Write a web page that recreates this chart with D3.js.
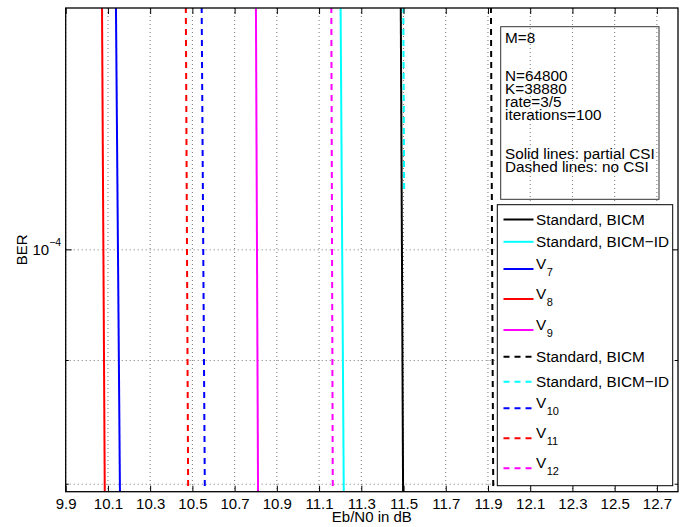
<!DOCTYPE html>
<html lang="en">
<meta charset="utf-8">
  <head>
    <script src="https://d3js.org/d3.v7.min.js"></script>
  </head>
  <style>
    body { margin: 0; background: white; }
    text { font-family: "Liberation Sans", Arial, sans-serif; }
  </style>
  <body>
  <div id="chart"></div>
  <script>
  // series in legend order
  var names = ["Standard, BICM", "Standard, BICM\u2212ID", "V|7", "V|8", "V|9",
               "Standard, BICM", "Standard, BICM\u2212ID", "V|10", "V|11", "V|12"];
  var colors = ["black", "cyan", "blue", "red", "magenta",
                "black", "cyan", "blue", "red", "magenta"];
  var dashed = [false, false, false, false, false, true, true, true, true, true];
  // Eb/N0 at the BER values below
  var ebn0 = [
    [11.487, 11.498],
    [11.202, 11.217],
    [10.138, 10.157],
    [10.072, 10.085],
    [10.801, 10.811],
    [11.914, 11.925],
    [11.499, 11.503],
    [10.544, 10.559],
    [10.469, 10.480],
    [11.158, 11.165]
  ];
  var ber = [
    [1.26e-4, 7.94e-5],
    [1.26e-4, 7.94e-5],
    [1.26e-4, 7.94e-5],
    [1.26e-4, 7.94e-5],
    [1.26e-4, 7.94e-5],
    [1.26e-4, 7.94e-5],
    [1.26e-4, 1.056e-4],
    [1.26e-4, 7.94e-5],
    [1.26e-4, 7.94e-5],
    [1.26e-4, 7.94e-5]
  ];
  var xTicks = [9.9, 10.1, 10.3, 10.5, 10.7, 10.9, 11.1, 11.3, 11.5, 11.7, 11.9, 12.1, 12.3, 12.5, 12.7];
  var yMajor = [1e-4];
  var yMinor = [8e-5, 9e-5];
  var infoLines = ["M=8", "", "", "N=64800", "K=38880", "rate=3/5", "iterations=100", "", "",
                   "Solid lines: partial CSI", "Dashed lines: no CSI"];

  var W = 685, H = 527;
  var L = 65.7, T = 8, R = 678, B = 491.7;

  var svg = d3.select("#chart").append("svg")
      .attr("width", W).attr("height", H);

  var x = d3.scaleLinear().domain([9.9, 12.8]).range([L, R]);
  var y = d3.scaleLog().domain([Math.pow(10, -4.1), Math.pow(10, -3.9)]).range([B, T]);

  svg.append("clipPath").attr("id", "clip")
    .append("rect").attr("x", L).attr("y", T).attr("width", R - L).attr("height", B - T);

  // grid
  var grid = svg.append("g");
  grid.selectAll(".gx").data(xTicks).enter().append("line")
      .attr("x1", d => x(d)).attr("x2", d => x(d))
      .attr("y1", T).attr("y2", B)
      .attr("stroke", "#777").attr("stroke-width", 1).attr("stroke-dasharray", "1,3");
  grid.selectAll(".gy").data(yMajor.concat(yMinor)).enter().append("line")
      .attr("x1", L).attr("x2", R)
      .attr("y1", d => y(d)).attr("y2", d => y(d))
      .attr("stroke", "#777").attr("stroke-width", 1).attr("stroke-dasharray", "1,3");

  // curves
  var line = d3.line().x(d => x(d[0])).y(d => y(d[1]));
  var curves = svg.append("g").attr("clip-path", "url(#clip)");
  names.forEach(function(n, i) {
    var pts = ebn0[i].map((e, j) => [e, ber[i][j]]);
    curves.append("path")
      .datum(pts)
      .attr("d", line)
      .attr("fill", "none")
      .attr("stroke", colors[i])
      .attr("stroke-width", 2)
      .attr("stroke-dasharray", dashed[i] ? "6,5" : null);
  });

  // axes
  var xAxis = d3.axisBottom(x).tickValues(xTicks).tickSize(-6).tickPadding(6.5)
      .tickFormat(d3.format(".1f"));
  var gx = svg.append("g").attr("transform", `translate(0,${B})`).call(xAxis);
  gx.select(".domain").remove();
  gx.selectAll("text").attr("font-size", 15).attr("fill", "black")
      .attr("font-family", "Liberation Sans, Arial, sans-serif");
  gx.selectAll("line").attr("stroke", "black");

  var xTop = d3.axisTop(x).tickValues(xTicks).tickSize(-6).tickFormat("");
  var gt = svg.append("g").attr("transform", `translate(0,${T})`).call(xTop);
  gt.select(".domain").remove();
  gt.selectAll("line").attr("stroke", "black");

  // y ticks, left and right
  var yt = svg.append("g");
  [[L, 1], [R, -1]].forEach(function(s) {
    yt.selectAll(null).data(yMajor).enter().append("line")
      .attr("x1", s[0]).attr("x2", s[0] + s[1] * 6)
      .attr("y1", d => y(d)).attr("y2", d => y(d))
      .attr("stroke", "black");
    yt.selectAll(null).data(yMinor).enter().append("line")
      .attr("x1", s[0]).attr("x2", s[0] + s[1] * 3)
      .attr("y1", d => y(d)).attr("y2", d => y(d))
      .attr("stroke", "black");
  });
  // 10^-4 style label
  var yl = yt.selectAll(null).data(yMajor).enter().append("text")
      .attr("x", 32.5).attr("y", d => y(d) + 5)
      .attr("font-size", 15);
  yl.append("tspan").text("10");
  yl.append("tspan").attr("font-size", 10.5).attr("dy", -9)
      .text(d => "\u2212" + Math.abs(Math.round(Math.log10(d))));

  // box
  svg.append("rect").attr("x", L).attr("y", T).attr("width", R - L).attr("height", B - T)
      .attr("fill", "none").attr("stroke", "black").attr("stroke-width", 1.3);

  // axis labels
  svg.append("text").attr("x", (L + R) / 2).attr("y", 522)
      .attr("text-anchor", "middle").attr("font-size", 15).text("Eb/N0 in dB");
  svg.append("text").attr("transform", `translate(26.5,${(T + B) / 2}) rotate(-90)`)
      .attr("text-anchor", "middle").attr("font-size", 15).text("BER");

  // info text box (one multi-line text)
  svg.append("rect").attr("x", 500.7).attr("y", 26.7).attr("width", 158.3).attr("height", 172.6)
      .attr("fill", "none").attr("stroke", "#333").attr("stroke-width", 1);
  var info = svg.append("text").attr("x", 505).attr("y", 42.5).attr("font-size", 15.3);
  info.selectAll("tspan").data(infoLines).enter().append("tspan")
      .attr("x", 505).attr("y", (d, i) => 42.5 + i * 12.9)
      .text(d => d);

  // legend
  var rowY = [219.5, 241.8, 269, 299, 330, 356.7, 381.7, 408.3, 438.3, 468.3];
  var leg = svg.append("g");
  leg.append("rect").attr("x", 497.3).attr("y", 204.7).attr("width", 175.4).attr("height", 281)
      .attr("fill", "white").attr("stroke", "black").attr("stroke-width", 1);
  names.forEach(function(n, i) {
    var ry = rowY[i];
    leg.append("line").attr("x1", 503.5).attr("x2", 533.5).attr("y1", ry).attr("y2", ry)
      .attr("stroke", colors[i]).attr("stroke-width", 2)
      .attr("stroke-dasharray", dashed[i] ? "6,5" : null);
    var parts = n.split("|");
    if (parts.length === 1) {
      leg.append("text").attr("x", 536).attr("y", ry + 5.2).attr("font-size", 15.3).text(n);
    } else {
      var t = leg.append("text").attr("x", 536).attr("y", ry).attr("font-size", 15.3);
      t.append("tspan").text(parts[0]);
      t.append("tspan").attr("font-size", 11).attr("dy", 6.5).attr("dx", 0.5).text(parts[1]);
    }
  });
  </script>
  </body>
</html>
